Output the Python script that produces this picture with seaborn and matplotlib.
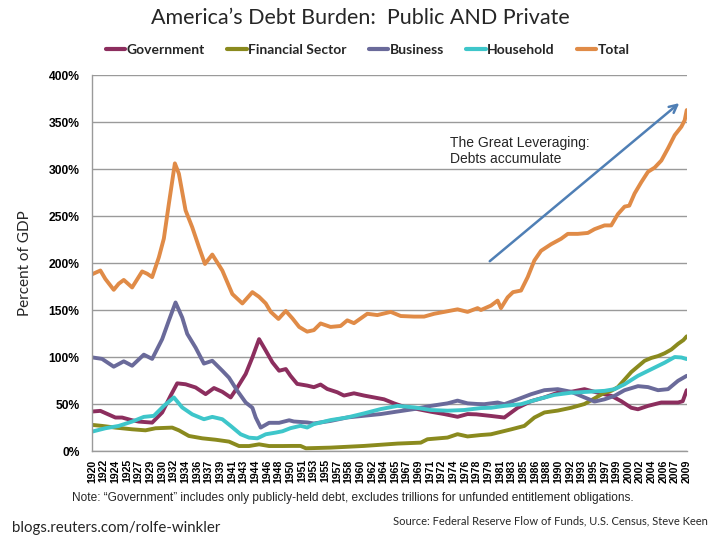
import numpy as np
import pandas as pd
import matplotlib
matplotlib.use("Agg")
import matplotlib.pyplot as plt
from matplotlib.lines import Line2D
import seaborn as sns

# ---------------- data (percent of GDP) ----------------
total_years = [1920, 1921.25, 1922, 1923.25, 1924, 1924.75, 1926, 1927.5, 1928.25, 1929, 1930, 1930.75,
               1931.5, 1932.4, 1933, 1934, 1935, 1936, 1936.9, 1938, 1939.5, 1941, 1942.5, 1944, 1945,
               1946, 1946.75, 1947.9, 1949, 1950, 1951, 1951.7, 1952.2, 1953.2, 1954.2, 1955.7, 1957.2,
               1958.2, 1959.2, 1960.2, 1961.2, 1962.7, 1964.7, 1966.2, 1968.2, 1969.7, 1971.2, 1972.7,
               1974.7, 1976.2, 1977.7, 1978.2, 1979.7, 1980.7, 1981.2, 1982.2, 1983, 1984.2, 1985.2,
               1986.2, 1987.2, 1988.7, 1990.2, 1991.2, 1992.7, 1994.2, 1995.2, 1996.7, 1997.7, 1998.7,
               1999.7, 2000.4, 2001.2, 2002.2, 2003.2, 2004.2, 2005.2, 2006.2, 2007.2, 2008.2, 2008.7, 2009]
total_vals = [188, 192, 183, 171.5, 178, 182, 174, 191, 188.6, 185, 206, 226,
              263, 306, 295, 256, 238, 217, 199, 209, 192, 167, 157, 169, 164,
              157, 148, 140.5, 149, 141, 132, 129, 127, 128.6, 135.7, 132, 133,
              139, 136, 141, 146, 144.6, 148, 143.6, 143, 143, 146, 148,
              150.7, 148, 152, 150, 154.7, 160, 152, 163.5, 169, 170.7, 185,
              202.7, 213, 220, 225.8, 231, 231, 232, 236, 240, 240, 252,
              260, 261, 274, 286, 297, 301.5, 309, 322, 336, 345, 352, 362.7]

gov_years = [1920, 1921.25, 1923.5, 1924.5, 1926, 1927, 1929, 1930.5, 1931.75, 1932.75, 1934, 1935.5,
             1937, 1938.25, 1939.5, 1940.75, 1941.75, 1943, 1944, 1945, 1946, 1947, 1948, 1949,
             1949.7, 1950.7, 1952.2, 1953.2, 1954.2, 1955.2, 1956.7, 1957.7, 1959.2, 1960.7, 1962.2,
             1963.7, 1965.2, 1966.7, 1968.7, 1970.7, 1972.7, 1974.7, 1976.2, 1977.5, 1979.7, 1981.7,
             1983.7, 1985.7, 1987.7, 1989.7, 1991.7, 1993.7, 1995.7, 1997.7, 1999.2, 2000.7, 2001.7,
             2003.2, 2005.2, 2007.7, 2008.4, 2009]
gov_vals = [42, 42.7, 35.6, 35.6, 32.7, 31.3, 30.2, 41, 58.7, 72, 71, 67.6,
            60.5, 67, 63, 57, 67.6, 82, 99.6, 119, 106.8, 94.3, 85.4, 87.2,
            80, 71.4, 69.6, 67.9, 70.7, 66, 62.5, 59, 61.4, 59, 57,
            55, 50.7, 47, 44.6, 41.8, 39.3, 36.4, 39.3, 39, 37.3, 35.6,
            46, 53, 57, 62, 63, 65.8, 62, 58.7, 53, 46, 44.4,
            48, 51.6, 51.6, 53, 64.7]

fin_years = [1920, 1921.5, 1923.5, 1926, 1928, 1929.5, 1932, 1933, 1934.5, 1936.5, 1938.5, 1940.5,
             1942, 1943.5, 1945, 1946.5, 1948.5, 1950, 1951.2, 1952, 1955.7, 1960.7, 1965.7, 1969.2,
             1970.2, 1973.2, 1974.7, 1976.2, 1978.2, 1979.7, 1982.7, 1984.7, 1986.2, 1987.7, 1989.7,
             1991.7, 1993.7, 1995.2, 1996.7, 1997.7, 1998.7, 1999.7, 2000.7, 2001.7, 2002.7, 2003.7,
             2004.7, 2005.7, 2006.7, 2007.7, 2008.5, 2009]
fin_vals = [27.8, 26.7, 24.9, 23.1, 22, 24.2, 24.9, 22, 16, 13.5, 12, 10,
            5.3, 5.3, 7.1, 5.3, 5.3, 5.4, 5.4, 2.9, 3.6, 5.4, 7.9, 8.9,
            12.5, 14.3, 17.9, 15.5, 17, 17.8, 23, 26.7, 35.6, 41, 43,
            46, 50, 56, 62, 64, 68, 76, 84, 90, 96, 99,
            101, 104, 108, 114, 118, 122]

bus_years = [1920, 1921.5, 1923.25, 1924.75, 1926, 1927.75, 1929, 1930.5, 1931.5, 1932.5, 1933.5, 1934.25,
             1935.5, 1936.75, 1938, 1939.5, 1940.5, 1941.75, 1943, 1944, 1944.5, 1945.25, 1946.5, 1948,
             1949.5, 1950.2, 1952.2, 1953.2, 1955.7, 1958.2, 1960.7, 1963.2, 1965.7, 1968.2, 1970.7,
             1973.2, 1974.7, 1976.2, 1977.7, 1978.7, 1980.7, 1981.7, 1983.7, 1985.7, 1987.7, 1989.7,
             1991.7, 1993.7, 1995.2, 1996.7, 1998.2, 1999.7, 2001.7, 2003.2, 2004.7, 2006.2, 2007.7, 2009]
bus_vals = [99.6, 98, 89.7, 95.4, 90.7, 102.5, 98, 119, 138.8, 158, 142, 124.6,
            110, 93, 96, 85.4, 78, 64, 51.6, 46, 35.6, 24.9, 30, 30,
            32.7, 31.4, 30.4, 29.3, 32, 35.7, 37.5, 39.3, 42, 44.6, 48,
            50.7, 53.6, 50.7, 50, 49.8, 51.6, 49.8, 55, 60.4, 64.7, 65.8,
            63, 57, 52.6, 55, 58.7, 64.7, 69, 68, 64.7, 65.8, 74.7, 80]

hh_years = [1920, 1922, 1924, 1926, 1927.75, 1929.25, 1930.75, 1932.25, 1933.5, 1935, 1936.75, 1938,
            1939.5, 1940.75, 1942.25, 1943.5, 1944.75, 1946, 1947.5, 1948.5, 1949.7, 1951.2, 1952.2,
            1953.2, 1955.7, 1958.2, 1960.7, 1963.2, 1965.7, 1968.2, 1970.7, 1973.2, 1975.7, 1978.2,
            1979.7, 1981.7, 1984.2, 1986.7, 1989.2, 1991.7, 1994.2, 1996.7, 1998.2, 1999.7, 2001.7,
            2003.7, 2005.7, 2007.2, 2008.2, 2009]
hh_vals = [20.6, 24.2, 26.7, 31.3, 36.3, 37.4, 48, 57, 46.3, 39, 33.8, 36.3,
           33.8, 26.7, 17.8, 14.2, 13.5, 17.8, 19.6, 21, 24.3, 26.8, 25,
           28.6, 32.9, 35.7, 40, 44.6, 48, 46.4, 43.6, 42.9, 43.6, 45.7,
           46, 48, 49.8, 55, 59.7, 62, 63, 64, 65.8, 71, 80,
           87, 94, 100, 99.5, 97.8]

series_names = ["Government", "Financial Sector", "Business", "Household", "Total"]
series_colors = ["#8c2e5e", "#8a8a1e", "#6a6a9a", "#3ec6ca", "#e08b47"]

tick_labels = ["1920", "1922", "1924", "1925", "1927", "1929", "1930", "1932", "1934", "1936",
               "1937", "1939", "1941", "1943", "1944", "1946", "1948", "1950", "1951", "1953",
               "1955", "1957", "1958", "1960", "1962", "1964", "1965", "1967", "1969", "1971",
               "1972", "1974", "1976", "1978", "1979", "1981", "1983", "1985", "1986", "1988",
               "1990", "1992", "1993", "1995", "1997", "1999", "2000", "2002", "2004", "2006",
               "2007", "2009"]
y_ticks = [0, 50, 100, 150, 200, 250, 300, 350, 400]

# ---------------- build long table ----------------
frames = []
for name, yrs, vals in [("Government", gov_years, gov_vals),
                        ("Financial Sector", fin_years, fin_vals),
                        ("Business", bus_years, bus_vals),
                        ("Household", hh_years, hh_vals),
                        ("Total", total_years, total_vals)]:
    frames.append(pd.DataFrame({"year": yrs, "value": vals, "series": name}))
df = pd.concat(frames, ignore_index=True)

sns.set_theme(style="white")
plt.rcParams["font.family"] = ["Liberation Sans", "DejaVu Sans"]

fig = plt.figure(figsize=(7.2, 5.4), dpi=100)
ax = fig.add_axes([0.1278, 0.1648, 0.826, 0.6963])

sns.lineplot(data=df, x="year", y="value", hue="series", hue_order=series_names,
             palette=dict(zip(series_names, series_colors)), estimator=None, sort=False,
             linewidth=2.8, legend=False, ax=ax)

first, last = min(total_years), max(total_years)
ax.set_xlim(first, last)
ax.set_ylim(0, 400)
ax.set_yticks(y_ticks)
ax.set_yticklabels([f"{v}%" for v in y_ticks], fontsize=8.7, fontweight="bold")
ax.set_xticks(np.linspace(first, last, len(tick_labels)))
ax.set_xticklabels(tick_labels, rotation=90, fontsize=7.6, fontweight="bold")
ax.tick_params(axis="both", length=0, colors="black")
ax.tick_params(axis="y", pad=9)
ax.tick_params(axis="x", pad=6)
ax.grid(axis="y", color="#9a9a9a", linewidth=1.0)
ax.set_axisbelow(True)
for s in ["top", "right"]:
    ax.spines[s].set_visible(False)
for s in ["left", "bottom"]:
    ax.spines[s].set_color("#9a9a9a")
    ax.spines[s].set_linewidth(1.0)
ax.set_xlabel("")
ax.set_ylabel("Percent of GDP", fontsize=11, family="Lato", labelpad=12)

# annotation
ax.annotate("", xy=(2008.2, 372), xytext=(1979.2, 200),
            arrowprops=dict(arrowstyle="->", color="#4f7fb5", lw=1.8, mutation_scale=14))
ax.text(1973.5, 335, "The Great Leveraging:\nDebts accumulate", fontsize=10,
        va="top", ha="left", linespacing=1.2)

# title and legend
fig.text(0.5, 0.966, "America\u2019s Debt Burden:  Public AND Private", ha="center", va="center",
         fontsize=15.5, family="Lato")
handles = [Line2D([0], [0], color=c, lw=3) for c in series_colors]
fig.legend(handles, series_names, loc="center", bbox_to_anchor=(0.511, 0.908), ncol=5,
           frameon=False, handlelength=1.4, handletextpad=0.1, columnspacing=1.6,
           prop={"family": "Lato", "weight": "bold", "size": 10})

# footers
fig.text(0.1, 0.077, "Note: \u201cGovernment\u201d includes only publicly-held debt, excludes trillions for unfunded entitlement obligations.",
         fontsize=8.6, ha="left", va="center")
fig.text(0.017, 0.022, "blogs.reuters.com/rolfe-winkler", fontsize=10.8, family="Lato",
         ha="left", va="center")
fig.text(0.983, 0.035, "Source: Federal Reserve Flow of Funds, U.S. Census, Steve Keen", fontsize=8.0,
         family="Lato", ha="right", va="center")

fig.savefig("out.png", dpi=100)
